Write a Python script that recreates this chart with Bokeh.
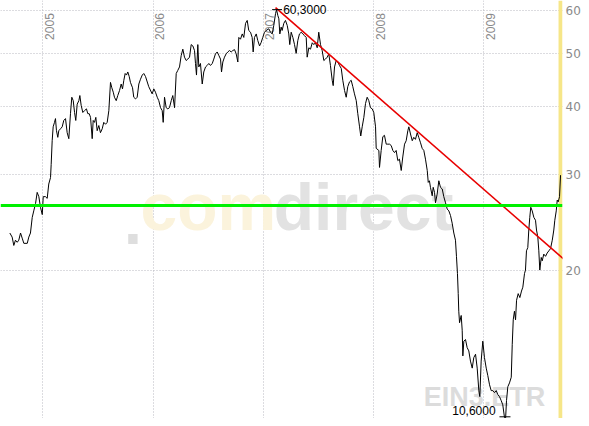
from bokeh.plotting import figure
from bokeh.models import Range1d, FixedTicker, Span, Label, NumeralTickFormatter, ColumnDataSource
from bokeh.core.properties import value
from bokeh.embed import file_html
from bokeh.resources import INLINE

# time in decimal years, closing prices (EUR)
t = [
    2004.701, 2004.722, 2004.737, 2004.752, 2004.768, 2004.782, 2004.798, 2004.813, 2004.828, 2004.859,
    2004.873, 2004.888, 2004.904, 2004.918, 2004.934, 2004.949, 2004.964, 2004.979, 2004.995, 2005.004,
    2005.024, 2005.040, 2005.054, 2005.070, 2005.076, 2005.085, 2005.094, 2005.106, 2005.115, 2005.124,
    2005.136, 2005.145, 2005.161, 2005.176, 2005.190, 2005.206, 2005.221, 2005.236, 2005.251, 2005.263,
    2005.276, 2005.288, 2005.299, 2005.312, 2005.327, 2005.336, 2005.348, 2005.363, 2005.378, 2005.396,
    2005.408, 2005.421, 2005.433, 2005.448, 2005.457, 2005.469, 2005.481, 2005.493, 2005.508, 2005.523,
    2005.539, 2005.553, 2005.569, 2005.584, 2005.599, 2005.614, 2005.626, 2005.639, 2005.650, 2005.666,
    2005.680, 2005.696, 2005.711, 2005.723, 2005.735, 2005.747, 2005.759, 2005.771, 2005.784, 2005.795,
    2005.814, 2005.825, 2005.841, 2005.856, 2005.871, 2005.886, 2005.902, 2005.916, 2005.932, 2005.961,
    2005.992, 2006.007, 2006.022, 2006.038, 2006.052, 2006.068, 2006.083, 2006.092, 2006.104, 2006.119,
    2006.134, 2006.149, 2006.165, 2006.179, 2006.195, 2006.210, 2006.224, 2006.240, 2006.255, 2006.270,
    2006.285, 2006.301, 2006.315, 2006.331, 2006.346, 2006.361, 2006.376, 2006.385, 2006.394, 2006.406,
    2006.415, 2006.430, 2006.446, 2006.460, 2006.476, 2006.491, 2006.506, 2006.521, 2006.537, 2006.551,
    2006.566, 2006.582, 2006.596, 2006.612, 2006.621, 2006.633, 2006.648, 2006.663, 2006.678, 2006.693,
    2006.709, 2006.723, 2006.739, 2006.754, 2006.769, 2006.778, 2006.793, 2006.809, 2006.823, 2006.839,
    2006.854, 2006.868, 2006.884, 2006.899, 2006.908, 2006.920, 2006.936, 2006.950, 2006.966, 2006.981,
    2006.995, 2007.011, 2007.026, 2007.050, 2007.065, 2007.081, 2007.095, 2007.111, 2007.120, 2007.132,
    2007.141, 2007.150, 2007.162, 2007.171, 2007.186, 2007.201, 2007.217, 2007.231, 2007.240, 2007.253,
    2007.268, 2007.283, 2007.298, 2007.313, 2007.328, 2007.344, 2007.358, 2007.374, 2007.389, 2007.398,
    2007.413, 2007.428, 2007.444, 2007.458, 2007.473, 2007.489, 2007.503, 2007.519, 2007.534, 2007.549,
    2007.564, 2007.580, 2007.594, 2007.609, 2007.625, 2007.634, 2007.646, 2007.661, 2007.676, 2007.691,
    2007.707, 2007.721, 2007.737, 2007.752, 2007.766, 2007.782, 2007.797, 2007.812, 2007.827, 2007.843,
    2007.857, 2007.873, 2007.884, 2007.897, 2007.912, 2007.927, 2007.942, 2007.957, 2007.972, 2007.988,
    2008.002, 2008.018, 2008.024, 2008.048, 2008.054, 2008.069, 2008.084, 2008.099, 2008.115, 2008.129,
    2008.145, 2008.160, 2008.175, 2008.190, 2008.205, 2008.220, 2008.235, 2008.251, 2008.265, 2008.281,
    2008.296, 2008.311, 2008.320, 2008.335, 2008.351, 2008.365, 2008.380, 2008.396, 2008.410, 2008.426,
    2008.441, 2008.456, 2008.471, 2008.487, 2008.496, 2008.507, 2008.516, 2008.532, 2008.541, 2008.553,
    2008.562, 2008.577, 2008.592, 2008.607, 2008.623, 2008.637, 2008.653, 2008.668, 2008.683, 2008.698,
    2008.713, 2008.728, 2008.743, 2008.752, 2008.761, 2008.768, 2008.773, 2008.780, 2008.795, 2008.804,
    2008.810, 2008.819, 2008.834, 2008.849, 2008.864, 2008.879, 2008.895, 2008.909, 2008.925, 2008.940,
    2008.955, 2008.964, 2008.976, 2008.991, 2009.006, 2009.022, 2009.036, 2009.052, 2009.067, 2009.082,
    2009.097, 2009.113, 2009.127, 2009.142, 2009.158, 2009.172, 2009.188, 2009.197, 2009.206, 2009.218,
    2009.233, 2009.249, 2009.258, 2009.267, 2009.278, 2009.288, 2009.297, 2009.312, 2009.327, 2009.342,
    2009.354, 2009.369, 2009.378, 2009.387, 2009.399, 2009.408, 2009.417, 2009.426, 2009.439, 2009.454,
    2009.469, 2009.478, 2009.490, 2009.499, 2009.508, 2009.521, 2009.530, 2009.544, 2009.560, 2009.575,
    2009.590, 2009.605, 2009.621, 2009.635, 2009.644, 2009.657, 2009.666, 2009.675, 2009.687, 2009.696,
]
close = [
    23.4, 23.0, 22.2, 22.7, 22.5, 22.7, 23.4, 22.9, 22.4, 22.4,
    23.0, 23.4, 25.0, 25.7, 26.5, 27.8, 27.3, 26.1, 25.3, 27.3,
    27.3, 27.1, 28.8, 29.6, 31.3, 34.6, 36.7, 37.4, 38.0, 36.1,
    35.1, 36.1, 36.4, 36.7, 37.7, 38.0, 35.8, 34.9, 38.8, 41.6,
    41.0, 39.0, 37.7, 40.4, 41.0, 41.9, 40.2, 39.0, 39.3, 39.6,
    38.8, 38.8, 38.2, 34.9, 37.7, 37.4, 38.2, 36.1, 36.9, 35.8,
    36.4, 37.4, 37.1, 37.4, 39.3, 44.3, 43.3, 42.5, 41.6, 41.0,
    41.9, 42.8, 44.0, 43.1, 44.7, 46.0, 45.7, 46.3, 45.4, 44.3,
    43.3, 41.6, 41.3, 41.6, 44.0, 44.9, 45.7, 46.0, 45.4, 43.5,
    42.2, 43.1, 42.5, 41.6, 41.0, 39.8, 39.3, 37.4, 41.6, 39.8,
    39.6, 39.8, 41.0, 41.9, 39.8, 46.0, 46.6, 47.3, 49.6, 51.0,
    49.3, 48.6, 48.9, 49.3, 52.0, 51.7, 50.7, 48.0, 45.7, 52.0,
    47.3, 48.0, 44.0, 46.3, 47.3, 47.6, 48.0, 47.6, 48.0, 48.9,
    50.0, 50.4, 49.7, 48.9, 46.3, 48.3, 49.3, 50.0, 50.4, 50.7,
    50.4, 50.7, 50.9, 50.0, 48.3, 53.6, 53.2, 54.4, 53.6, 56.9,
    57.6, 55.2, 54.8, 53.6, 50.4, 53.6, 54.4, 52.9, 51.7, 52.5,
    53.6, 54.8, 55.2, 55.6, 54.8, 54.4, 56.4, 59.3, 60.3, 58.8,
    58.0, 54.4, 56.0, 55.2, 56.9, 57.6, 56.4, 54.4, 52.0, 54.8,
    53.6, 52.0, 50.1, 52.9, 54.4, 54.8, 54.4, 54.0, 53.6, 49.3,
    51.3, 51.0, 52.4, 52.0, 52.4, 51.3, 54.8, 52.0, 50.7, 48.6,
    48.9, 49.3, 50.0, 47.6, 44.7, 43.7, 47.3, 48.6, 48.3, 47.6,
    47.0, 44.7, 42.8, 41.6, 43.5, 44.4, 44.7, 43.5, 42.2, 41.0,
    38.8, 36.7, 35.3, 36.7, 38.2, 40.5, 41.6, 41.0, 39.8, 39.6,
    39.0, 36.7, 33.5, 33.2, 30.9, 33.2, 35.2, 35.4, 34.1, 34.1,
    34.1, 33.9, 33.2, 32.9, 33.2, 31.8, 32.0, 30.5, 32.3, 34.1,
    34.6, 36.1, 36.7, 35.6, 34.6, 35.1, 34.8, 35.8, 35.1, 34.3,
    33.5, 33.2, 32.0, 30.5, 29.0, 29.2, 28.4, 27.4, 28.4, 27.8,
    26.6, 27.6, 29.2, 28.4, 28.2, 27.3, 26.6, 25.9, 25.7, 25.2,
    24.4, 23.4, 22.7, 21.2, 19.7, 18.1, 16.8, 16.0, 16.5, 15.5,
    13.9, 14.8, 14.9, 14.4, 14.2, 13.6, 13.2, 13.8, 14.0, 13.2,
    12.0, 11.7, 13.6, 14.8, 13.8, 13.2, 12.8, 12.3, 12.0, 12.0,
    11.9, 12.0, 11.8, 11.7, 11.5, 11.3, 10.7, 10.6, 11.5, 12.2,
    12.4, 12.7, 14.6, 16.2, 16.8, 16.2, 17.6, 18.1, 17.8, 18.3,
    18.6, 19.7, 20.0, 21.7, 22.0, 23.7, 25.0, 26.1, 25.7, 25.0,
    24.7, 23.7, 23.0, 21.7, 20.0, 21.1, 20.8, 21.4, 21.2, 21.5,
    21.7, 21.9, 22.7, 23.7, 24.7, 25.7, 26.9, 26.7, 27.3, 29.9,
]

year_ticks = [2005, 2006, 2007, 2008, 2009]
year_labels = ["2005", "2006", "2007", "2008", "2009"]
price_ticks = [20, 30, 40, 50, 60]

support_level = 26.3            # green horizontal line
trend_t = [2007.111, 2009.952]  # red downtrend line
trend_v = [60.8, 19.1]
high_t, high_v, high_text = 2007.120, 60.3, "60,3000"
low_t, low_v, low_text = 2009.197, 10.6, "10,6000"
last_t = 2009.696               # current-day marker

GRID = "#b8b8c0"
LABEL_GREY = "#8a8a8a"
WM_FONT = "Liberation Sans"

p = figure(
    frame_width=562, frame_height=418,
    x_range=Range1d(2004.6163, 2009.7138),
    y_range=Range1d(10.663, 62.68),
    y_axis_type="log", y_axis_location="right", x_axis_location=None,
    output_backend="svg", toolbar_location=None,
    min_border_left=0, min_border_right=0, min_border_top=0, min_border_bottom=0,
)
p.outline_line_color = None
p.background_fill_color = "white"
p.border_fill_color = "white"

# grids
p.xgrid.ticker = FixedTicker(ticks=year_ticks)
p.ygrid.ticker = FixedTicker(ticks=price_ticks)
for g in (p.xgrid, p.ygrid):
    g.grid_line_color = GRID
    g.grid_line_dash = "1 2"
    g.grid_line_width = 1
p.ygrid.minor_grid_line_color = None

# right axis
ax = p.yaxis[0]
ax.ticker = FixedTicker(ticks=price_ticks)
ax.formatter = NumeralTickFormatter(format="0")
ax.axis_line_color = None
ax.major_tick_line_color = None
ax.minor_tick_line_color = None
ax.major_tick_out = 0
ax.major_tick_in = 0
ax.major_label_standoff = 3
ax.major_label_text_color = LABEL_GREY
ax.major_label_text_font = "DejaVu Sans"
ax.major_label_text_font_size = "12px"

# watermarks
p.add_layout(Label(x=2005.735, y=22.36, text=".", text_font=WM_FONT, text_font_style="bold",
                   text_font_size="66px", text_color="#dedede", level="underlay"))
p.add_layout(Label(x=2005.886, y=22.36, text="com", text_font=WM_FONT, text_font_style="bold",
                   text_font_size="66px", text_color="#fbf3dc", level="underlay"))
p.add_layout(Label(x=2007.095, y=22.36, text="direct", text_font=WM_FONT, text_font_style="bold",
                   text_font_size="66px", text_color="#e2e2e2", level="underlay"))
p.add_layout(Label(x=2008.456, y=10.95, text="EIN3.ETR", text_font=WM_FONT,
                   text_font_style="bold", text_font_size="27px", text_color="#dcdcdc",
                   level="underlay"))

# current-day marker
p.add_layout(Span(location=last_t, dimension="height", line_color="#f6e688", line_width=4,
                  level="underlay"))

# year labels
ysrc = ColumnDataSource(dict(x=year_ticks, y=[59.4] * len(year_ticks), text=year_labels))
p.text(x="x", y="y", text="text", source=ysrc, angle=1.5708, x_offset=2,
       text_align="right", text_baseline="top", text_color=LABEL_GREY,
       text_font=value("Liberation Sans"), text_font_size="12px")

# price line
p.line(t, close, line_color="black", line_width=1.0)

# trend line
p.line(trend_t, trend_v, line_color="#e80000", line_width=1.6)

# support
p.add_layout(Span(location=support_level, dimension="width", line_color="#00f000", line_width=3))

# high / low markers
p.segment(x0=[high_t - 0.04, low_t - 0.055], y0=[high_v, 10.74],
          x1=[high_t + 0.05, low_t + 0.045], y1=[high_v, 10.74], line_color="black", line_width=1)
p.add_layout(Label(x=high_t + 0.06, y=high_v, text=high_text, text_font="Liberation Sans",
                   text_font_size="12px", text_color="black", text_baseline="middle"))
p.add_layout(Label(x=low_t - 0.09, y=11.03, text=low_text, text_font="Liberation Sans",
                   text_font_size="12px", text_color="black", text_baseline="middle",
                   text_align="right"))

open("out.html", "w").write(file_html(p, INLINE))
